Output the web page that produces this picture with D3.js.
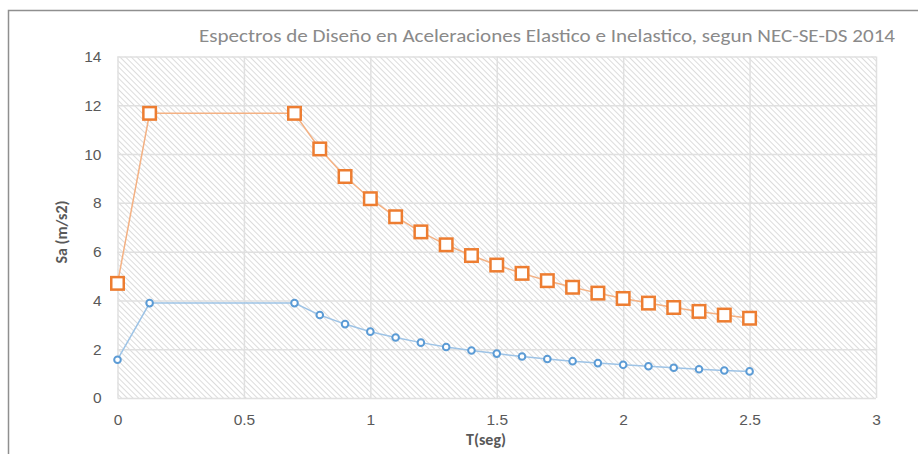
<!DOCTYPE html>
<html>
<head>
<meta charset="utf-8">
<script src="https://cdn.jsdelivr.net/npm/d3@7"></script>
<style>
  body { margin: 0; background: #fff; }
  svg { display: block; font-family: Carlito, "Open Sans", "Liberation Sans", sans-serif; }
</style>
</head>
<body>
<svg id="chart" width="918" height="454"></svg>
<script>
// periods (s) and spectral accelerations (m/s2)
var periods = [0, 0.127, 0.7, 0.8, 0.9, 1.0, 1.1, 1.2, 1.3, 1.4, 1.5, 1.6, 1.7, 1.8, 1.9, 2.0, 2.1, 2.2, 2.3, 2.4, 2.5];
var elastic = [4.70, 11.67, 11.67, 10.21, 9.08, 8.17, 7.43, 6.81, 6.28, 5.84, 5.45, 5.11, 4.81, 4.54, 4.30, 4.08, 3.89, 3.71, 3.55, 3.40, 3.27];
var inelastic = [1.57, 3.89, 3.89, 3.40, 3.03, 2.72, 2.48, 2.27, 2.09, 1.95, 1.82, 1.70, 1.60, 1.51, 1.43, 1.36, 1.30, 1.24, 1.18, 1.13, 1.09];
var xTicks = [0, 0.5, 1, 1.5, 2, 2.5, 3];
var yTicks = [0, 2, 4, 6, 8, 10, 12, 14];

var cfg = {
	left: 117.5,
	right: 876,
	top: 56.5,
	bottom: 398
};

var svg = d3.select("#chart");

// outer chart frame (runs past the right and bottom of the picture)
svg.append("rect")
	.attr("x", 8.5).attr("y", 10.5)
	.attr("width", 930).attr("height", 460)
	.attr("fill", "#fff")
	.attr("stroke", "#8f8f8f")
	.attr("stroke-width", 1.5);

var defs = svg.append("defs");
var pat = defs.append("pattern")
	.attr("id", "hatch")
	.attr("patternUnits", "userSpaceOnUse")
	.attr("width", 4).attr("height", 4)
	.attr("patternTransform", "rotate(-45)");
pat.append("rect").attr("width", 4).attr("height", 4).attr("fill", "#fff");
pat.append("line")
	.attr("x1", 0).attr("y1", 0).attr("x2", 0).attr("y2", 4)
	.attr("stroke", "#d8d8d8").attr("stroke-width", 1.8);

var x = d3.scaleLinear().domain([0, 3]).range([cfg.left, cfg.right]);
var y = d3.scaleLinear().domain([0, 14]).range([cfg.bottom, cfg.top]);

svg.append("rect")
	.attr("x", cfg.left).attr("y", cfg.top)
	.attr("width", cfg.right - cfg.left).attr("height", cfg.bottom - cfg.top)
	.attr("fill", "url(#hatch)");

// grid
svg.append("g")
	.attr("transform", "translate(0," + cfg.bottom + ")")
	.call(d3.axisBottom(x).tickValues(xTicks).tickSize(-(cfg.bottom - cfg.top)).tickFormat(""))
	.call(function(g) {
		g.select(".domain").remove();
		g.selectAll("line").attr("stroke", "#e0e0e0").attr("stroke-width", 1.5);
	});
svg.append("g")
	.attr("transform", "translate(" + cfg.left + ",0)")
	.call(d3.axisLeft(y).tickValues(yTicks).tickSize(-(cfg.right - cfg.left)).tickFormat(""))
	.call(function(g) {
		g.select(".domain").remove();
		g.selectAll("line").attr("stroke", "#e0e0e0").attr("stroke-width", 1.5);
	});

// tick labels
svg.append("g")
	.attr("transform", "translate(0," + cfg.bottom + ")")
	.call(d3.axisBottom(x).tickValues(xTicks).tickSize(0).tickPadding(16).tickFormat(d3.format("")))
	.call(function(g) {
		g.select(".domain").remove();
		g.selectAll("text").attr("fill", "#595959").style("font-size", "15.5px");
	});
svg.append("g")
	.attr("transform", "translate(" + cfg.left + ",0)")
	.call(d3.axisLeft(y).tickValues(yTicks).tickSize(0).tickPadding(16))
	.call(function(g) {
		g.select(".domain").remove();
		g.selectAll("text").attr("fill", "#595959").style("font-size", "15.5px");
	});

// series
var pts = function(vals) {
	return periods.map(function(t, i) { return [t, vals[i]]; });
};
var line = d3.line()
	.x(function(d) { return x(d[0]); })
	.y(function(d) { return y(d[1]); });

svg.append("path")
	.datum(pts(inelastic))
	.attr("d", line)
	.attr("fill", "none")
	.attr("stroke", "#9dc3e6")
	.attr("stroke-width", 1.5);

svg.append("path")
	.datum(pts(elastic))
	.attr("d", line)
	.attr("fill", "none")
	.attr("stroke", "#f4b183")
	.attr("stroke-width", 1.5);

svg.append("g").selectAll("circle")
	.data(pts(inelastic))
	.enter().append("circle")
	.attr("cx", function(d) { return x(d[0]); })
	.attr("cy", function(d) { return y(d[1]); })
	.attr("r", 3.3)
	.attr("fill", "#fff")
	.attr("stroke", "#5b9bd5")
	.attr("stroke-width", 2);

var sq = 12.5;
svg.append("g").selectAll("rect")
	.data(pts(elastic))
	.enter().append("rect")
	.attr("x", function(d) { return x(d[0]) - sq / 2; })
	.attr("y", function(d) { return y(d[1]) - sq / 2; })
	.attr("width", sq).attr("height", sq)
	.attr("fill", "#fff")
	.attr("stroke", "#ed7d31")
	.attr("stroke-width", 2.5);

// titles
svg.append("text")
	.attr("x", 199).attr("y", 42)
	.attr("textLength", 696).attr("lengthAdjust", "spacingAndGlyphs")
	.attr("fill", "#8a8a8a")
	.style("font-size", "19px")
	.text("Espectros de Diseño en Aceleraciones Elastico e Inelastico, segun NEC-SE-DS 2014");

svg.append("text")
	.attr("x", 486).attr("y", 445)
	.attr("text-anchor", "middle")
	.attr("fill", "#595959")
	.style("font-size", "16px").style("font-weight", "bold")
	.text("T(seg)");

svg.append("text")
	.attr("transform", "translate(67,232) rotate(-90)")
	.attr("text-anchor", "middle")
	.attr("fill", "#595959")
	.style("font-size", "16px").style("font-weight", "bold")
	.text("Sa (m/s2)");
</script>
</body>
</html>
